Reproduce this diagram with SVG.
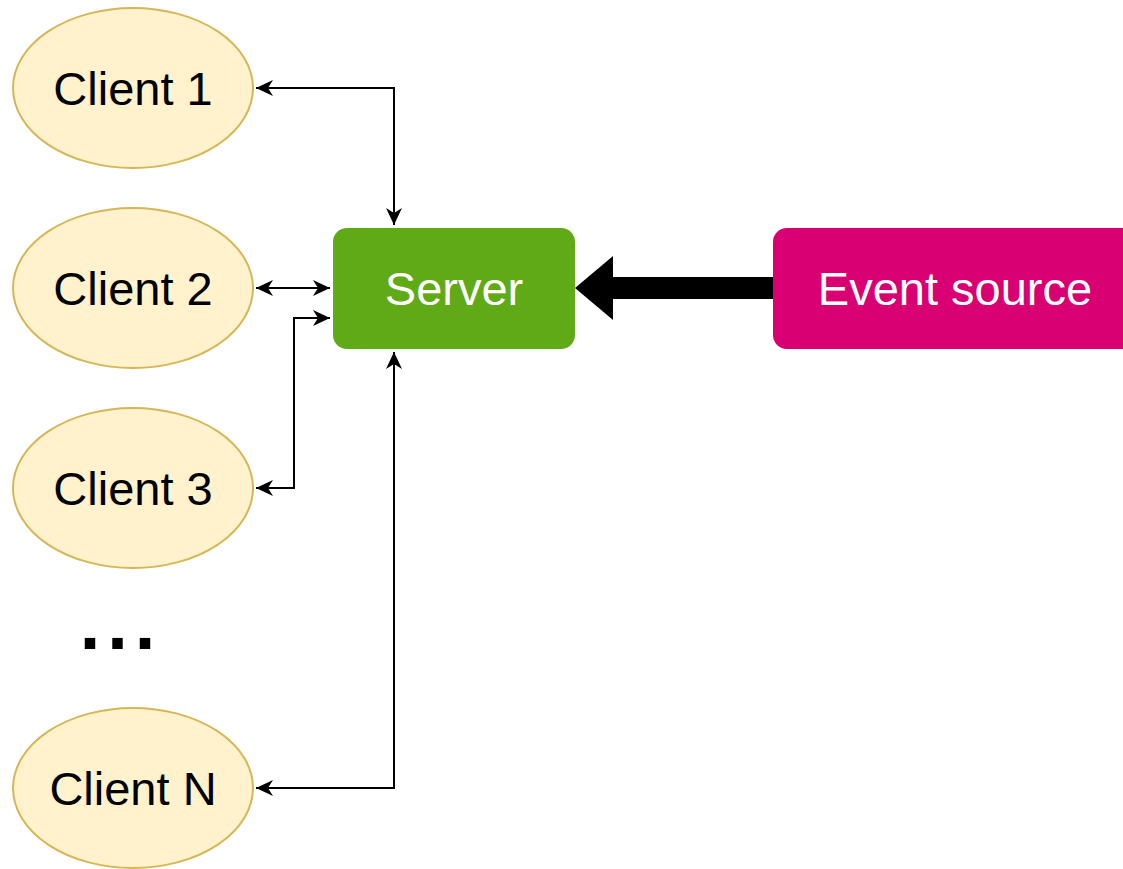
<svg xmlns="http://www.w3.org/2000/svg" width="1123" height="869" viewBox="0 0 1123 869">
  <style>
    .client ellipse { fill: #fff2cc; stroke: #d6b656; stroke-width: 2; }
    .label { font-family: "Liberation Sans", Arial, Helvetica, sans-serif; font-size: 47px; text-anchor: middle; }
    .dark { fill: #000000; }
    .light { fill: #ffffff; }
    .link { fill: none; stroke: #000000; stroke-width: 2; }
  </style>
  <defs>
    <marker id="arrow" viewBox="0 0 18 16" refX="17" refY="8" markerWidth="18" markerHeight="16" markerUnits="userSpaceOnUse" orient="auto-start-reverse">
      <path d="M17,8 L0,0 L5,8 L0,16 Z" fill="#000000"/>
    </marker>
  </defs>
  <rect width="1123" height="869" fill="#ffffff"/>

  <g id="connectors">
    <path class="link" d="M256,88 H394 V225" marker-start="url(#arrow)" marker-end="url(#arrow)"/>
    <path class="link" d="M256,288 H330" marker-start="url(#arrow)" marker-end="url(#arrow)"/>
    <path class="link" d="M256,488 H294 V318 H330" marker-start="url(#arrow)" marker-end="url(#arrow)"/>
    <path class="link" d="M256,788 H394 V352" marker-start="url(#arrow)" marker-end="url(#arrow)"/>
    <g id="event-feed">
      <rect x="612" y="277" width="162" height="22" fill="#000000"/>
      <polygon points="575,288 613,256 613,320" fill="#000000"/>
    </g>
  </g>

  <g id="client-1" class="client">
    <ellipse cx="133" cy="88" rx="120" ry="80"/>
    <text class="label dark" x="133" y="105">Client 1</text>
  </g>
  <g id="client-2" class="client">
    <ellipse cx="133" cy="288" rx="120" ry="80"/>
    <text class="label dark" x="133" y="305">Client 2</text>
  </g>
  <g id="client-3" class="client">
    <ellipse cx="133" cy="488" rx="120" ry="80"/>
    <text class="label dark" x="133" y="505">Client 3</text>
  </g>
  <g id="ellipsis">
    <text class="label dark" x="121" y="649" style="font-size:74px;font-weight:bold;letter-spacing:7px">...</text>
  </g>
  <g id="client-n" class="client">
    <ellipse cx="133" cy="788" rx="120" ry="80"/>
    <text class="label dark" x="133" y="805">Client N</text>
  </g>

  <g id="server">
    <rect x="333" y="228" width="242" height="121" rx="14" fill="#60a917"/>
    <text class="label light" x="454" y="305">Server</text>
  </g>
  <g id="event-source">
    <rect x="773" y="228" width="365" height="121" rx="14" fill="#d80073"/>
    <text class="label light" x="955" y="305">Event source</text>
  </g>
</svg>
